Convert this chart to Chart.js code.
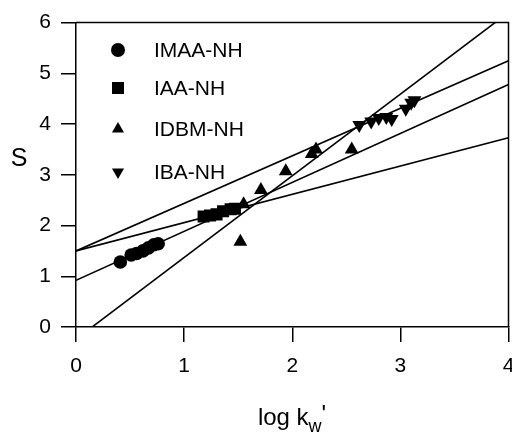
<!DOCTYPE html>
<html>
<head>
<meta charset="utf-8">
<script src="https://cdn.jsdelivr.net/npm/chart.js@4/dist/chart.umd.min.js"></script>
<style>
html, body { margin: 0; padding: 0; background: #fff; overflow: hidden; }
</style>
</head>
<body>
<!-- a bit wider than the window so the "4" label is cut at the edge like the scan -->
<canvas id="chart" width="517" height="433"></canvas>
<script>
// data
const seriesNames = ['IMAA-NH', 'IAA-NH', 'IDBM-NH', 'IBA-NH'];

const imaaLogKw = [0.41, 0.51, 0.56, 0.62, 0.67, 0.72, 0.76];
const imaaS     = [1.28, 1.42, 1.45, 1.50, 1.56, 1.62, 1.64];

const iaaLogKw = [1.18, 1.24, 1.30, 1.36, 1.43, 1.47];
const iaaS     = [2.18, 2.20, 2.22, 2.28, 2.32, 2.33];

const idbmLogKw = [1.52, 1.55, 1.71, 1.94, 2.18, 2.22, 2.55];
const idbmS     = [1.68, 2.42, 2.70, 3.07, 3.41, 3.50, 3.50];

const ibaLogKw = [2.62, 2.73, 2.80, 2.87, 2.92, 3.05, 3.10, 3.13];
const ibaS     = [3.98, 4.05, 4.12, 4.14, 4.10, 4.30, 4.42, 4.47];

// regression lines: S at log kw' = 0 and at log kw' = 4
const fitAtZero = [1.50, 0.92, 1.50, -0.24];
const fitAtFour = [5.25, 4.78, 3.73, 6.20];

const xTicks = [0, 1, 2, 3, 4];
const yTicks = [0, 1, 2, 3, 4, 5, 6];

const FONT = "Arial, 'Liberation Sans', sans-serif";

function pts(xs, ys) {
  return xs.map((x, i) => ({ x, y: ys[i] }));
}

const markers = [
  { style: 'circle', radius: 6.8, rotation: 0 },
  { style: 'rect', radius: 8.5, rotation: 0 },
  { style: 'triangle', radius: 8, rotation: 0 },
  { style: 'triangle', radius: 8, rotation: 180 }
];

const pointSets = [
  pts(imaaLogKw, imaaS),
  pts(iaaLogKw, iaaS),
  pts(idbmLogKw, idbmS),
  pts(ibaLogKw, ibaS)
];

const datasets = [];
fitAtZero.forEach((s0, i) => {
  datasets.push({
    label: 'fit ' + (i + 1),
    data: [{ x: 0, y: s0 }, { x: 4, y: fitAtFour[i] }],
    showLine: true,
    borderColor: '#000',
    borderWidth: 1.6,
    pointRadius: 0,
    fill: false
  });
});
pointSets.forEach((d, i) => {
  datasets.push({
    label: seriesNames[i],
    data: d,
    pointStyle: markers[i].style,
    pointRadius: markers[i].radius,
    pointRotation: markers[i].rotation,
    backgroundColor: '#000',
    borderColor: '#000',
    borderWidth: 0,
    showLine: false
  });
});

function drawMarker(ctx, m, x, y, r) {
  ctx.save();
  ctx.fillStyle = '#000';
  ctx.beginPath();
  if (m.style === 'circle') {
    ctx.arc(x, y, r, 0, Math.PI * 2);
  } else if (m.style === 'rect') {
    const h = r * Math.SQRT1_2;
    ctx.rect(x - h, y - h, 2 * h, 2 * h);
  } else {
    const dir = m.rotation === 180 ? -1 : 1;
    ctx.moveTo(x, y - dir * r);
    ctx.lineTo(x - r * 0.866, y + dir * r * 0.5);
    ctx.lineTo(x + r * 0.866, y + dir * r * 0.5);
    ctx.closePath();
  }
  ctx.fill();
  ctx.restore();
}

const framePlugin = {
  id: 'frame',
  beforeDatasetsDraw(chart) {
    const { ctx, chartArea: a } = chart;
    ctx.save();
    ctx.strokeStyle = '#000';
    ctx.lineWidth = 1.5;
    ctx.beginPath();
    ctx.moveTo(a.left, a.top);
    ctx.lineTo(a.right, a.top);
    ctx.lineTo(a.right, a.bottom);
    ctx.stroke();
    ctx.restore();
  },
  afterDraw(chart) {
    const { ctx, chartArea: a } = chart;
    ctx.save();
    ctx.fillStyle = '#000';

    // legend in the upper left of the plot
    const rowY = [50, 88, 129, 172];
    ctx.font = '21px ' + FONT;
    ctx.textAlign = 'left';
    ctx.textBaseline = 'middle';
    seriesNames.forEach((name, i) => {
      drawMarker(ctx, markers[i], 118, rowY[i], markers[i].style === 'rect' ? 8.5 : 7);
      ctx.fillText(name, 154, rowY[i] + 1);
    });

    // y title, upright
    ctx.font = '25px ' + FONT;
    ctx.textAlign = 'center';
    ctx.fillText('S', 19, 159);

    // x title with subscript w and prime
    const big = '24px ' + FONT, small = '18px ' + FONT;
    ctx.textAlign = 'left';
    ctx.textBaseline = 'alphabetic';
    ctx.font = big;
    const w1 = ctx.measureText('log k').width;
    ctx.font = small;
    const w2 = ctx.measureText('w').width;
    const w3 = 5;
    let x = (a.left + a.right) / 2 - (w1 + w2 + w3) / 2;
    const base = 425;
    ctx.font = big;
    ctx.fillText('log k', x, base);
    x += w1;
    ctx.font = small;
    ctx.fillText('w', x, base + 7);
    x += w2;
    ctx.font = big;
    ctx.fillText("'", x, base - 3);
    ctx.restore();
  }
};

new Chart(document.getElementById('chart'), {
  type: 'scatter',
  data: { datasets },
  options: {
    responsive: false,
    animation: false,
    layout: { padding: { top: 21, right: 4, left: 0, bottom: 0 } },
    plugins: {
      legend: { display: false },
      tooltip: { enabled: false }
    },
    scales: {
      x: {
        type: 'linear',
        min: xTicks[0],
        max: xTicks[xTicks.length - 1],
        afterBuildTicks: s => { s.ticks = xTicks.map(v => ({ value: v })); },
        ticks: { color: '#000', font: { size: 21, family: FONT }, padding: 12, maxRotation: 0 },
        grid: { drawOnChartArea: false, drawTicks: true, tickLength: 15, color: '#000', lineWidth: 1.5 },
        border: { display: true, color: '#000', width: 1.5 },
        afterFit: s => { s.height = 106; s.paddingLeft = 0; s.paddingRight = 0; }
      },
      y: {
        type: 'linear',
        min: yTicks[0],
        max: yTicks[yTicks.length - 1],
        afterBuildTicks: s => { s.ticks = yTicks.map(v => ({ value: v })); },
        ticks: { color: '#000', font: { size: 21, family: FONT }, padding: 10 },
        grid: { drawOnChartArea: false, drawTicks: true, tickLength: 15, color: '#000', lineWidth: 1.5 },
        border: { display: true, color: '#000', width: 1.5 },
        afterFit: s => { s.width = 76; }
      }
    }
  },
  plugins: [framePlugin]
});
</script>
</body>
</html>
